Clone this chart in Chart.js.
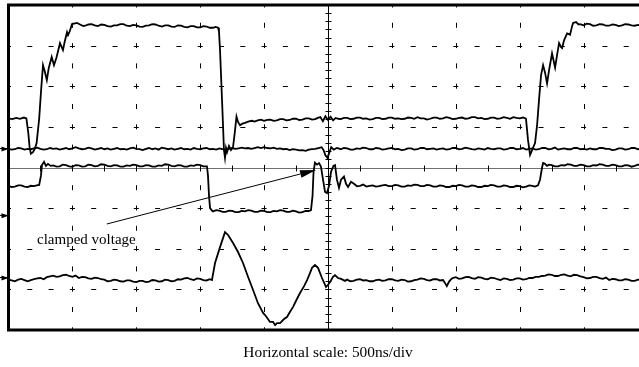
<!DOCTYPE html>
<html><head><meta charset="utf-8">
<script src="https://cdn.jsdelivr.net/npm/chart.js@4.4.0/dist/chart.umd.min.js"></script>
<style>html,body{margin:0;padding:0;background:#fff;overflow:hidden;width:639px;height:367px}canvas{display:block}</style>
</head><body>
<canvas id="c" width="648" height="367" style="width:648px;height:367px"></canvas>
<script>
// time in ns, amplitude in vertical divisions
const traceA = [[0,1.21],[30,1.19],[60,1.22],[90,1.2],[120,1.23],[140,1.21],[155,0.85],[165,0.5],[175,0.34],[190,0.37],[205,0.45],[220,0.6],[240,1.2],[255,1.9],[270,2.52],[285,2.35],[300,2.15],[315,2.45],[338,2.72],[356,2.52],[375,2.7],[403,3.06],[426,2.89],[440,3.1],[458,3.33],[466,3.26],[480,3.36],[497,3.53],[536,3.56],[560,3.52],[585,3.48],[600,3.49],[625,3.52],[650,3.53],[675,3.5],[700,3.48],[725,3.52],[750,3.51],[775,3.48],[800,3.47],[825,3.5],[850,3.5],[875,3.53],[900,3.53],[925,3.49],[950,3.48],[975,3.51],[1000,3.5],[1025,3.47],[1050,3.46],[1075,3.49],[1100,3.5],[1125,3.53],[1150,3.52],[1175,3.49],[1200,3.47],[1225,3.5],[1250,3.5],[1275,3.47],[1300,3.46],[1325,3.5],[1350,3.49],[1375,3.46],[1400,3.45],[1425,3.48],[1450,3.48],[1475,3.45],[1500,3.45],[1525,3.48],[1550,3.47],[1575,3.44],[1600,3.44],[1620,3.46],[1640,3.44],[1647,3.35],[1655,2.9],[1671,1.65],[1686,0.43],[1694,0.24],[1702,0.48],[1710,0.38],[1725,0.53],[1741,0.43],[1757,0.5],[1772,0.9],[1784,1.25],[1796,1.12],[1811,1.04],[1830,1.08],[1851,1.1],[1875,1.13],[1905,1.15],[1925,1.13],[1950,1.16],[1975,1.18],[2000,1.15],[2025,1.17],[2050,1.18],[2075,1.15],[2100,1.16],[2125,1.19],[2150,1.19],[2175,1.16],[2200,1.17],[2225,1.2],[2250,1.2],[2275,1.17],[2300,1.18],[2325,1.21],[2350,1.21],[2375,1.18],[2400,1.19],[2420,1.22],[2440,1.24],[2460,1.14],[2480,1.26],[2500,1.17],[2520,1.25],[2540,1.16],[2560,1.22],[2580,1.2],[2600,1.19],[2625,1.22],[2650,1.22],[2675,1.19],[2700,1.2],[2725,1.23],[2750,1.23],[2775,1.2],[2800,1.21],[2825,1.18],[2850,1.19],[2875,1.22],[2900,1.22],[2925,1.19],[2950,1.2],[2975,1.23],[3000,1.23],[3025,1.2],[3050,1.21],[3075,1.19],[3100,1.2],[3125,1.23],[3150,1.22],[3175,1.2],[3200,1.24],[3225,1.21],[3250,1.21],[3275,1.18],[3300,1.2],[3325,1.23],[3350,1.23],[3375,1.2],[3400,1.21],[3425,1.24],[3450,1.22],[3475,1.19],[3500,1.2],[3525,1.22],[3550,1.23],[3575,1.2],[3600,1.21],[3625,1.24],[3650,1.24],[3675,1.21],[3700,1.22],[3725,1.19],[3750,1.2],[3775,1.23],[3800,1.23],[3825,1.2],[3850,1.21],[3875,1.24],[3900,1.22],[3925,1.2],[3950,1.24],[3975,1.22],[4000,1.21],[4025,1.23],[4049,1.2],[4065,0.68],[4081,0.31],[4097,0.43],[4120,0.6],[4136,1.04],[4151,1.66],[4167,2.27],[4183,2.52],[4198,2.34],[4214,2.07],[4230,2.4],[4253,2.81],[4269,2.58],[4277,2.46],[4292,2.76],[4308,3.06],[4324,2.96],[4332,2.94],[4347,3.13],[4371,3.3],[4394,3.27],[4410,3.48],[4418,3.56],[4441,3.58],[4460,3.52],[4472,3.53],[4500,3.5],[4525,3.54],[4550,3.53],[4575,3.49],[4600,3.5],[4625,3.53],[4650,3.52],[4675,3.49],[4700,3.49],[4725,3.52],[4750,3.51],[4775,3.48],[4800,3.5],[4825,3.53],[4850,3.52],[4875,3.5],[4900,3.49],[4925,3.51],[4950,3.48]];

const traceB = [[0,0.46],[25,0.44],[50,0.45],[75,0.48],[100,0.47],[125,0.44],[150,0.46],[175,0.45],[200,0.47],[225,0.49],[250,0.46],[275,0.44],[300,0.45],[325,0.48],[350,0.46],[375,0.47],[400,0.44],[425,0.46],[450,0.48],[475,0.45],[500,0.47],[525,0.5],[550,0.47],[575,0.45],[600,0.46],[625,0.49],[650,0.47],[675,0.44],[700,0.46],[725,0.48],[750,0.45],[775,0.47],[800,0.44],[825,0.46],[850,0.48],[875,0.45],[900,0.46],[925,0.44],[950,0.47],[975,0.49],[1000,0.46],[1025,0.45],[1050,0.43],[1075,0.46],[1100,0.48],[1125,0.45],[1150,0.47],[1175,0.44],[1200,0.49],[1225,0.47],[1250,0.45],[1275,0.47],[1300,0.44],[1325,0.46],[1350,0.48],[1375,0.45],[1400,0.46],[1425,0.44],[1450,0.48],[1475,0.46],[1500,0.45],[1525,0.47],[1550,0.48],[1575,0.45],[1600,0.46],[1625,0.44],[1650,0.47],[1675,0.45],[1700,0.43],[1725,0.46],[1750,0.48],[1775,0.46],[1800,0.47],[1825,0.49],[1850,0.47],[1875,0.48],[1900,0.46],[1925,0.48],[1950,0.5],[1975,0.48],[2000,0.5],[2025,0.48],[2050,0.47],[2075,0.49],[2100,0.46],[2125,0.47],[2150,0.45],[2175,0.46],[2200,0.43],[2225,0.45],[2250,0.44],[2275,0.42],[2300,0.43],[2325,0.41],[2350,0.44],[2375,0.45],[2400,0.46],[2425,0.48],[2450,0.5],[2465,0.43],[2480,0.3],[2495,0.24],[2510,0.36],[2525,0.5],[2545,0.44],[2570,0.48],[2600,0.45],[2625,0.48],[2650,0.47],[2675,0.44],[2700,0.44],[2725,0.47],[2750,0.46],[2775,0.49],[2800,0.48],[2825,0.45],[2850,0.45],[2875,0.48],[2900,0.47],[2925,0.44],[2950,0.45],[2975,0.47],[3000,0.48],[3025,0.45],[3050,0.46],[3075,0.43],[3100,0.44],[3125,0.47],[3150,0.47],[3175,0.44],[3200,0.45],[3225,0.48],[3250,0.48],[3275,0.45],[3300,0.46],[3325,0.47],[3350,0.44],[3375,0.46],[3400,0.47],[3425,0.44],[3450,0.45],[3475,0.48],[3500,0.48],[3525,0.45],[3550,0.46],[3575,0.49],[3600,0.47],[3625,0.45],[3650,0.44],[3675,0.47],[3700,0.46],[3725,0.44],[3750,0.48],[3775,0.46],[3800,0.45],[3825,0.47],[3850,0.47],[3875,0.44],[3900,0.45],[3925,0.48],[3950,0.48],[3975,0.45],[4000,0.46],[4025,0.48],[4050,0.44],[4075,0.46],[4100,0.47],[4125,0.44],[4150,0.45],[4175,0.48],[4200,0.48],[4225,0.45],[4250,0.46],[4275,0.49],[4300,0.44],[4325,0.46],[4350,0.47],[4375,0.45],[4400,0.45],[4425,0.48],[4450,0.48],[4475,0.45],[4500,0.46],[4525,0.44],[4550,0.47],[4575,0.45],[4600,0.45],[4625,0.48],[4650,0.48],[4675,0.46],[4700,0.46],[4725,0.43],[4750,0.44],[4775,0.47],[4800,0.47],[4825,0.44],[4850,0.45],[4875,0.48],[4900,0.48],[4925,0.45],[4950,0.46]];

const traceC = [[0,-0.45],[25,-0.48],[50,-0.47],[75,-0.44],[100,-0.44],[125,-0.47],[150,-0.48],[175,-0.45],[200,-0.46],[220,-0.44],[240,-0.43],[254,-0.2],[262,0.06],[278,0.14],[293,0.04],[309,0.09],[330,0.04],[350,0.05],[375,0.02],[400,0.03],[425,0.07],[450,0.06],[475,0.03],[500,0.02],[525,0.06],[550,0.05],[575,0.02],[600,0.03],[625,0.07],[650,0.06],[675,0.03],[700,0.04],[725,0.08],[750,0.07],[775,0.04],[800,0.03],[825,0.06],[850,0.05],[875,0.02],[900,0.02],[925,0.05],[950,0.04],[975,0.07],[1000,0.06],[1025,0.03],[1050,0.03],[1075,0.06],[1100,0.05],[1125,0.02],[1150,0.02],[1175,0.05],[1200,0.04],[1225,0.08],[1250,0.07],[1275,0.04],[1300,0.03],[1325,0.06],[1350,0.05],[1375,0.02],[1400,0.02],[1425,0.05],[1450,0.04],[1475,0.07],[1500,0.06],[1525,0.03],[1553,0.03],[1561,-0.2],[1569,-0.7],[1577,-1.0],[1592,-1.06],[1600,-1.08],[1625,-1.05],[1650,-1.06],[1675,-1.09],[1700,-1.09],[1725,-1.06],[1750,-1.07],[1775,-1.1],[1800,-1.1],[1825,-1.07],[1850,-1.08],[1875,-1.05],[1900,-1.06],[1925,-1.09],[1950,-1.09],[1975,-1.06],[2000,-1.07],[2025,-1.1],[2050,-1.1],[2075,-1.07],[2100,-1.08],[2125,-1.05],[2150,-1.06],[2175,-1.09],[2200,-1.09],[2225,-1.06],[2250,-1.08],[2275,-1.11],[2300,-1.1],[2325,-1.07],[2350,-1.07],[2367,-1.05],[2379,-0.7],[2387,-0.1],[2398,0.12],[2414,0.07],[2430,0.11],[2445,0.02],[2461,-0.3],[2477,-0.6],[2492,-0.63],[2508,-0.45],[2524,-0.1],[2543,0.04],[2555,0.06],[2570,-0.3],[2586,-0.5],[2602,-0.3],[2625,-0.22],[2641,-0.4],[2657,-0.48],[2680,-0.35],[2703,-0.4],[2727,-0.46],[2750,-0.45],[2775,-0.42],[2800,-0.47],[2825,-0.45],[2850,-0.44],[2875,-0.47],[2900,-0.46],[2925,-0.44],[2950,-0.43],[2975,-0.46],[3000,-0.46],[3025,-0.43],[3050,-0.44],[3075,-0.47],[3100,-0.47],[3125,-0.44],[3150,-0.45],[3175,-0.42],[3200,-0.43],[3225,-0.46],[3250,-0.46],[3275,-0.43],[3300,-0.44],[3325,-0.47],[3350,-0.47],[3375,-0.44],[3400,-0.45],[3425,-0.48],[3450,-0.48],[3475,-0.45],[3500,-0.46],[3525,-0.43],[3550,-0.44],[3575,-0.47],[3600,-0.47],[3625,-0.44],[3650,-0.45],[3675,-0.48],[3700,-0.48],[3725,-0.45],[3750,-0.46],[3775,-0.43],[3800,-0.44],[3825,-0.47],[3850,-0.47],[3875,-0.44],[3900,-0.45],[3925,-0.48],[3950,-0.48],[3975,-0.45],[4000,-0.46],[4025,-0.49],[4050,-0.47],[4075,-0.44],[4100,-0.45],[4120,-0.47],[4143,-0.44],[4159,-0.3],[4175,0.0],[4183,0.11],[4198,0.09],[4214,0.04],[4230,0.07],[4250,0.06],[4275,0.03],[4300,0.03],[4325,0.06],[4350,0.05],[4375,0.08],[4400,0.07],[4425,0.04],[4450,0.04],[4475,0.07],[4500,0.06],[4525,0.03],[4550,0.03],[4575,0.06],[4600,0.05],[4625,0.08],[4650,0.07],[4675,0.04],[4700,0.04],[4725,0.07],[4750,0.06],[4775,0.03],[4800,0.03],[4825,0.06],[4850,0.05],[4875,0.02],[4900,0.04],[4925,0.07],[4950,0.06]];

const traceD = [[0,-2.76],[25,-2.78],[50,-2.8],[75,-2.76],[100,-2.74],[125,-2.77],[150,-2.8],[175,-2.77],[200,-2.75],[225,-2.73],[250,-2.72],[275,-2.75],[300,-2.7],[325,-2.68],[350,-2.66],[375,-2.69],[400,-2.68],[425,-2.65],[450,-2.64],[475,-2.67],[500,-2.69],[525,-2.66],[550,-2.72],[575,-2.69],[600,-2.7],[625,-2.73],[650,-2.74],[675,-2.71],[700,-2.72],[725,-2.75],[750,-2.76],[775,-2.8],[800,-2.79],[825,-2.76],[850,-2.77],[875,-2.8],[900,-2.81],[925,-2.78],[950,-2.78],[975,-2.81],[1000,-2.82],[1025,-2.79],[1050,-2.79],[1075,-2.82],[1100,-2.81],[1125,-2.77],[1150,-2.78],[1175,-2.81],[1200,-2.8],[1225,-2.76],[1250,-2.77],[1275,-2.8],[1300,-2.79],[1325,-2.75],[1350,-2.76],[1375,-2.73],[1400,-2.72],[1425,-2.75],[1450,-2.77],[1475,-2.73],[1500,-2.74],[1525,-2.77],[1550,-2.78],[1575,-2.75],[1592,-2.77],[1616,-2.35],[1655,-1.96],[1694,-1.59],[1718,-1.66],[1757,-1.86],[1796,-2.08],[1835,-2.35],[1874,-2.69],[1913,-3.01],[1952,-3.34],[1992,-3.58],[2015,-3.66],[2046,-3.8],[2070,-3.8],[2086,-3.88],[2101,-3.83],[2125,-3.83],[2156,-3.73],[2179,-3.68],[2203,-3.55],[2227,-3.43],[2250,-3.28],[2281,-3.09],[2313,-2.92],[2336,-2.77],[2359,-2.6],[2375,-2.47],[2398,-2.4],[2422,-2.47],[2453,-2.72],[2484,-2.94],[2500,-2.89],[2516,-2.82],[2539,-2.69],[2555,-2.65],[2578,-2.72],[2602,-2.74],[2633,-2.79],[2650,-2.76],[2675,-2.8],[2700,-2.79],[2725,-2.76],[2750,-2.75],[2775,-2.78],[2800,-2.77],[2825,-2.8],[2850,-2.8],[2875,-2.77],[2900,-2.76],[2925,-2.79],[2950,-2.78],[2975,-2.75],[3000,-2.75],[3025,-2.78],[3050,-2.79],[3075,-2.76],[3100,-2.77],[3125,-2.81],[3150,-2.8],[3175,-2.77],[3200,-2.76],[3225,-2.73],[3250,-2.74],[3275,-2.77],[3300,-2.78],[3325,-2.75],[3350,-2.75],[3375,-2.78],[3400,-2.77],[3415,-2.84],[3430,-2.92],[3445,-2.82],[3460,-2.76],[3475,-2.72],[3500,-2.7],[3525,-2.74],[3550,-2.73],[3575,-2.7],[3600,-2.69],[3625,-2.72],[3650,-2.74],[3675,-2.7],[3700,-2.71],[3725,-2.74],[3750,-2.75],[3775,-2.71],[3800,-2.72],[3825,-2.75],[3850,-2.77],[3875,-2.73],[3900,-2.74],[3925,-2.77],[3950,-2.76],[3975,-2.73],[4000,-2.73],[4025,-2.76],[4050,-2.75],[4075,-2.72],[4100,-2.72],[4125,-2.69],[4150,-2.69],[4175,-2.67],[4200,-2.66],[4225,-2.63],[4250,-2.64],[4275,-2.67],[4300,-2.67],[4325,-2.64],[4350,-2.63],[4375,-2.66],[4400,-2.68],[4425,-2.64],[4450,-2.65],[4475,-2.68],[4500,-2.7],[4525,-2.73],[4550,-2.72],[4575,-2.69],[4600,-2.69],[4625,-2.72],[4650,-2.74],[4675,-2.71],[4700,-2.77],[4725,-2.74],[4750,-2.75],[4775,-2.78],[4800,-2.78],[4825,-2.75],[4850,-2.76],[4875,-2.79],[4900,-2.79],[4925,-2.76],[4950,-2.76]];

const groundMarkers = [0.455, -1.19, -2.72];
const timeDivisionsNs = [0, 500, 1000, 1500, 2000, 2500, 3000, 3500, 4000, 4500, 5000];
const voltDivisions = [-4, -3, -2, -1, 0, 1, 2, 3, 4];
const annotationLabel = 'clamped voltage';
const annotationTextAt = [223, -1.88];
const annotationArrowFrom = [770, -1.39];
const annotationArrowTo = [2406, -0.06];
const horizontalScaleLabel = 'Horizontal scale: 500ns/div';

const toXY = arr => arr.map(([t, v]) => ({x: t, y: v}));

const scopeGrid = {
  id: 'scopeGrid',
  beforeDatasetsDraw(chart) {
    const {ctx, chartArea: a, scales: {x, y}} = chart;
    ctx.save();
    ctx.strokeStyle = '#000';
    ctx.lineWidth = 1;
    const xc = timeDivisionsNs[5], yc = 0;
    ctx.setLineDash([5, 15.3]);
    ctx.lineDashOffset = 2.5;
    timeDivisionsNs.forEach(t => {
      if (t === timeDivisionsNs[0] || t === xc || t === timeDivisionsNs[timeDivisionsNs.length - 1]) return;
      const px = Math.round(x.getPixelForValue(t)) + 0.5;
      ctx.beginPath(); ctx.moveTo(px, a.top); ctx.lineTo(px, a.bottom); ctx.stroke();
    });
    ctx.setLineDash([5, 16.3]);
    ctx.lineDashOffset = 2.5;
    voltDivisions.forEach(v => {
      if (v === yc || v === voltDivisions[0] || v === voltDivisions[voltDivisions.length - 1]) return;
      const py = Math.round(y.getPixelForValue(v)) + 0.5;
      ctx.beginPath(); ctx.moveTo(a.left, py); ctx.lineTo(a.right, py); ctx.stroke();
    });
    ctx.setLineDash([]);
    const cy = Math.round(y.getPixelForValue(yc)) + 0.5;
    ctx.strokeStyle = '#707070';
    ctx.beginPath(); ctx.moveTo(a.left, cy); ctx.lineTo(a.right, cy); ctx.stroke();
    ctx.strokeStyle = '#000';
    for (let i = 0; i < timeDivisionsNs.length - 1; i++) {
      for (let k = 1; k <= 2; k++) {
        const t = timeDivisionsNs[i] + k * (timeDivisionsNs[i + 1] - timeDivisionsNs[i]) / 2;
        const px = Math.round(x.getPixelForValue(t)) + 0.5;
        ctx.beginPath(); ctx.moveTo(px, cy - 3); ctx.lineTo(px, cy + 3); ctx.stroke();
      }
    }
    const cx = Math.round(x.getPixelForValue(xc)) + 0.5;
    ctx.beginPath(); ctx.moveTo(cx, a.top); ctx.lineTo(cx, a.bottom); ctx.stroke();
    for (let i = 0; i < voltDivisions.length - 1; i++) {
      for (let k = 1; k <= 5; k++) {
        const v = voltDivisions[i] + k * (voltDivisions[i + 1] - voltDivisions[i]) / 5;
        const py = Math.round(y.getPixelForValue(v)) + 0.5;
        ctx.beginPath(); ctx.moveTo(cx - 3, py); ctx.lineTo(cx + 3, py); ctx.stroke();
      }
    }
    ctx.restore();
  },
  afterDatasetsDraw(chart) {
    const {ctx, chartArea: a, scales: {x, y}} = chart;
    ctx.save();
    ctx.strokeStyle = '#000';
    ctx.lineWidth = 3;
    ctx.beginPath();
    ctx.moveTo(a.right, a.top); ctx.lineTo(a.left, a.top); ctx.lineTo(a.left, a.bottom); ctx.lineTo(a.right, a.bottom);
    ctx.stroke();
    ctx.fillStyle = '#000';
    ctx.lineWidth = 1;
    groundMarkers.forEach(v => {
      const py = y.getPixelForValue(v);
      ctx.beginPath(); ctx.moveTo(0, py - 0.5); ctx.lineTo(a.left, py - 0.5); ctx.stroke();
      ctx.beginPath(); ctx.moveTo(a.left, py); ctx.lineTo(a.left - 7, py - 2.5); ctx.lineTo(a.left - 7, py + 2.5); ctx.closePath(); ctx.fill();
    });
    const x0 = x.getPixelForValue(annotationArrowFrom[0]), y0 = y.getPixelForValue(annotationArrowFrom[1]);
    const x1 = x.getPixelForValue(annotationArrowTo[0]), y1 = y.getPixelForValue(annotationArrowTo[1]);
    const ang = Math.atan2(y1 - y0, x1 - x0);
    const L = 16, W = 3.8;
    const bx = x1 - L * Math.cos(ang), by = y1 - L * Math.sin(ang);
    ctx.lineWidth = 1;
    ctx.beginPath(); ctx.moveTo(x0, y0); ctx.lineTo(bx, by); ctx.stroke();
    ctx.beginPath();
    ctx.moveTo(x1, y1);
    ctx.lineTo(bx + W * Math.sin(ang), by - W * Math.cos(ang));
    ctx.lineTo(bx - W * Math.sin(ang), by + W * Math.cos(ang));
    ctx.closePath(); ctx.fill();
    ctx.font = '15px "Liberation Serif"';
    ctx.textAlign = 'left';
    ctx.textBaseline = 'alphabetic';
    ctx.fillText(annotationLabel, x.getPixelForValue(annotationTextAt[0]), y.getPixelForValue(annotationTextAt[1]));
    ctx.restore();
  }
};

const ds = (data) => ({data: toXY(data), borderColor: '#000', borderWidth: 1.8, pointRadius: 0, tension: 0, fill: false});

new Chart(document.getElementById('c'), {
  type: 'line',
  data: {datasets: [ds(traceA), ds(traceB), ds(traceC), ds(traceD)]},
  options: {
    responsive: false,
    animation: false,
    events: [],
    layout: {padding: {left: 8.5, top: 5, right: 0.5, bottom: 0}},
    scales: {
      x: {type: 'linear', min: timeDivisionsNs[0], max: timeDivisionsNs[timeDivisionsNs.length - 1], display: false},
      y: {type: 'linear', min: voltDivisions[0], max: voltDivisions[voltDivisions.length - 1], display: false}
    },
    plugins: {
      legend: {display: false},
      tooltip: {enabled: false},
      title: {
        display: true, position: 'bottom', fullSize: false, text: horizontalScaleLabel, color: '#000',
        font: {family: '"Liberation Serif"', size: 15.4, weight: 'normal', lineHeight: 1.2},
        padding: {top: 13.4, bottom: 5.1}
      }
    }
  },
  plugins: [scopeGrid]
});
</script>
</body></html>
